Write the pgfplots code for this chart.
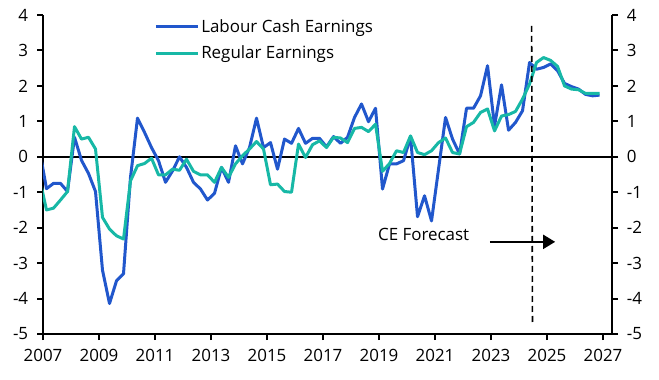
\documentclass[border=0pt]{standalone}
\usepackage{fontspec}
\setmainfont{Open Sans}
\usepackage{pgfplots}
\pgfplotsset{compat=1.18}
\usetikzlibrary{arrows.meta}
\definecolor{lce}{HTML}{2157CC}
\definecolor{reg}{HTML}{17B8A6}
\pgfplotstableread{
t v
2006.875 0.2
2007.125 -0.9
2007.375 -0.75
2007.625 -0.75
2007.875 -0.98
2008.125 0.55
2008.375 -0.1
2008.625 -0.47
2008.875 -0.98
2009.125 -3.2
2009.375 -4.14
2009.625 -3.5
2009.875 -3.3
2010.125 -0.58
2010.375 1.09
2010.625 0.69
2010.875 0.26
2011.125 -0.11
2011.375 -0.72
2011.625 -0.4
2011.875 0.0
2012.125 -0.3
2012.375 -0.72
2012.625 -0.91
2012.875 -1.22
2013.125 -1.03
2013.375 -0.3
2013.625 -0.72
2013.875 0.31
2014.125 -0.2
2014.375 0.26
2014.625 1.09
2014.875 0.26
2015.125 0.4
2015.375 -0.35
2015.625 0.5
2015.875 0.38
2016.125 0.8
2016.375 0.38
2016.625 0.52
2016.875 0.52
2017.125 0.28
2017.375 0.57
2017.625 0.38
2017.875 0.55
2018.125 1.11
2018.375 1.49
2018.625 0.99
2018.875 1.37
2019.125 -0.91
2019.375 -0.2
2019.625 -0.2
2019.875 -0.11
2020.125 0.56
2020.375 -1.69
2020.625 -1.1
2020.875 -1.81
2021.125 -0.35
2021.375 1.11
2021.625 0.5
2021.875 0.08
2022.125 1.37
2022.375 1.37
2022.625 1.72
2022.875 2.57
2023.125 0.87
2023.375 2.03
2023.625 0.75
2023.875 0.97
2024.125 1.3
2024.375 2.66
2024.625 2.47
2024.875 2.52
2025.125 2.62
2025.375 2.43
2025.625 2.07
2025.875 1.98
2026.125 1.91
2026.375 1.76
2026.625 1.72
2026.875 1.74
}\lcetable
\pgfplotstableread{
t v
2006.875 -0.6
2007.125 -1.5
2007.375 -1.45
2007.625 -1.22
2007.875 -0.98
2008.125 0.85
2008.375 0.5
2008.625 0.55
2008.875 0.22
2009.125 -1.71
2009.375 -2.04
2009.625 -2.23
2009.875 -2.32
2010.125 -0.68
2010.375 -0.25
2010.625 -0.19
2010.875 -0.04
2011.125 -0.51
2011.375 -0.51
2011.625 -0.35
2011.875 -0.38
2012.125 -0.07
2012.375 -0.41
2012.625 -0.51
2012.875 -0.51
2013.125 -0.72
2013.375 -0.3
2013.625 -0.58
2013.875 -0.2
2014.125 0.03
2014.375 0.22
2014.625 0.43
2014.875 0.22
2015.125 -0.79
2015.375 -0.77
2015.625 -0.98
2015.875 -1.0
2016.125 0.36
2016.375 -0.02
2016.625 0.34
2016.875 0.45
2017.125 0.26
2017.375 0.55
2017.625 0.53
2017.875 0.4
2018.125 0.8
2018.375 0.83
2018.625 0.71
2018.875 0.92
2019.125 -0.41
2019.375 -0.19
2019.625 0.17
2019.875 0.12
2020.125 0.59
2020.375 0.12
2020.625 0.06
2020.875 0.17
2021.125 0.4
2021.375 0.53
2021.625 0.12
2021.875 0.08
2022.125 0.85
2022.375 0.97
2022.625 1.25
2022.875 1.35
2023.125 0.73
2023.375 1.15
2023.625 1.19
2023.875 1.28
2024.125 1.63
2024.375 2.05
2024.625 2.66
2024.875 2.8
2025.125 2.72
2025.375 2.55
2025.625 2.0
2025.875 1.91
2026.125 1.89
2026.375 1.79
2026.625 1.79
2026.875 1.79
}\regtable
\begin{document}
\fontsize{17}{20}\selectfont
\begin{tikzpicture}
\path[use as bounding box] (-43bp,-46bp) rectangle (616bp,334bp);
\pgfplotsset{
  common/.style={
    at={(0,0)}, anchor=south west, scale only axis,
    width=569bp, height=319bp,
    xmin=2007, xmax=2027.32, ymin=-5, ymax=4,
    ytick={-5,-4,...,4},
    tick align=outside, major tick length=6bp,
    every tick/.style={black, line width=2bp},
    axis line style={black, line width=2.2bp, -},
    tick label style={font=\fontsize{17}{20}\selectfont, text=black},
    xticklabel shift=3bp, yticklabel shift=3bp,
    /pgf/number format/assume math mode=true,
    /pgf/number format/1000 sep={},
  }
}
\begin{axis}[common,
  axis x line*=bottom, axis y line*=left,
  xtick={2007,2009,...,2027},
  legend style={at={(axis cs:2010.86,4.0)}, anchor=north west, draw=none, fill=none,
    font=\fontsize{17}{20}\selectfont, row sep=7bp,
    nodes={inner xsep=2bp, inner ysep=2bp}},
  legend cell align=left,
  legend image code/.code={\draw[#1] (0bp,0bp) -- (42bp,0bp);},
]
\addplot[black, line width=2.2bp, forget plot] coordinates {(2007,0) (2027.32,0)};
\addplot[lce, line width=3bp, line join=round] table[x=t, y=v] {\lcetable};
\addlegendentry{Labour Cash Earnings}
\addplot[reg, line width=3bp, line join=round] table[x=t, y=v] {\regtable};
\addlegendentry{Regular Earnings}
\draw[black, line width=1.6bp, dash pattern=on 6bp off 4bp] (axis cs:2024.45,3.69) -- (axis cs:2024.48,-4.69);
\draw[black, line width=2bp, -{Triangle[length=12bp,width=14bp]}] (axis cs:2022.96,-2.40) -- (axis cs:2025.29,-2.40);
\node[anchor=base west, inner sep=0, font=\fontsize{17}{20}\selectfont] at (axis cs:2018.96,-2.35) {CE Forecast};
\end{axis}
\begin{axis}[common,
  axis x line=none, axis y line*=right,
  xtick=\empty,
]
\end{axis}
\end{tikzpicture}
\end{document}
